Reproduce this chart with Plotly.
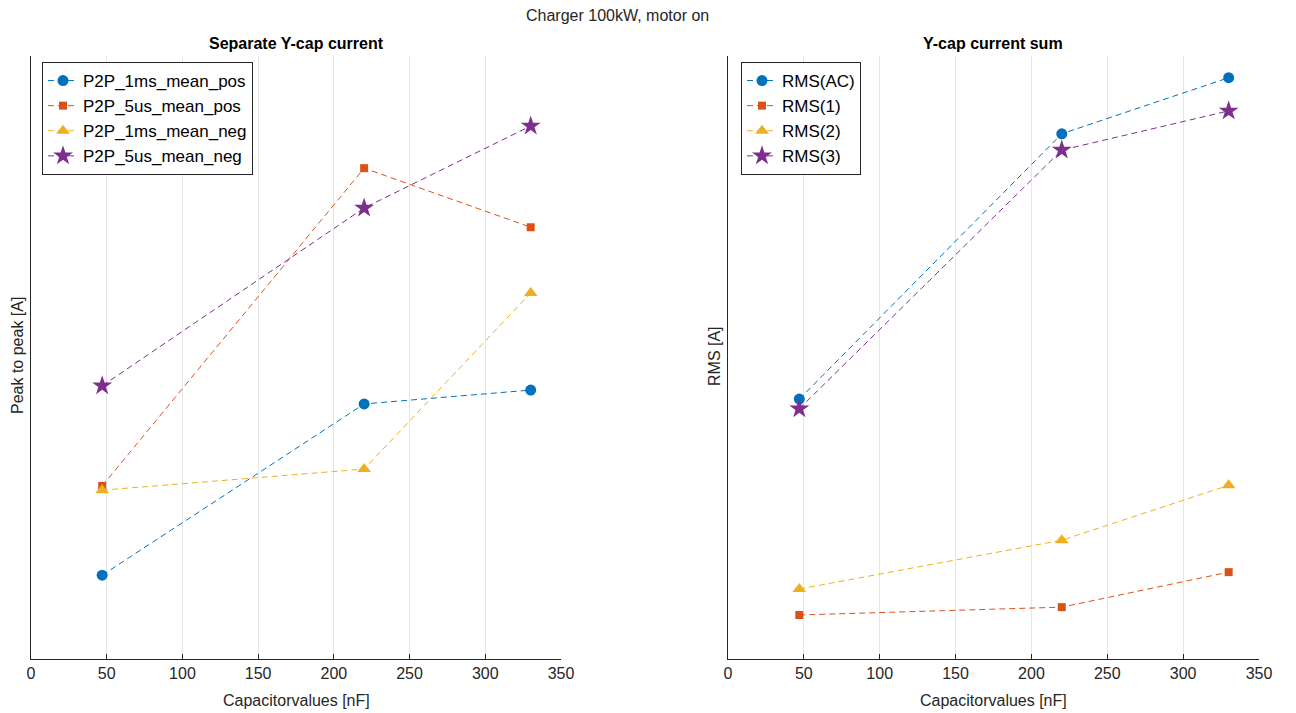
import plotly.graph_objects as go

cap_nf = [47, 220, 330]

# Left subplot: Separate Y-cap current (relative units, no y ticks shown)
p2p_1ms_mean_pos = [13.9, 42.3, 44.6]
p2p_5us_mean_pos = [28.7, 81.4, 71.6]
p2p_1ms_mean_neg = [28.0, 31.5, 60.7]
p2p_5us_mean_neg = [45.3, 74.8, 88.4]

# Right subplot: Y-cap current sum
rms_ac = [43.1, 87.1, 96.4]
rms_1 = [7.3, 8.6, 14.4]
rms_2 = [11.6, 19.7, 28.8]
rms_3 = [41.5, 84.4, 90.9]

x_ticks = [0, 50, 100, 150, 200, 250, 300, 350]

colors = ["#0072BD", "#D95319", "#EDB120", "#7E2F8E"]
symbols = ["circle", "square", "triangle-up", "star"]
sizes = [11, 8, 12, 15]

left_series = [("P2P_1ms_mean_pos", p2p_1ms_mean_pos), ("P2P_5us_mean_pos", p2p_5us_mean_pos),
               ("P2P_1ms_mean_neg", p2p_1ms_mean_neg), ("P2P_5us_mean_neg", p2p_5us_mean_neg)]
right_series = [("RMS(AC)", rms_ac), ("RMS(1)", rms_1), ("RMS(2)", rms_2), ("RMS(3)", rms_3)]

fig = go.Figure()
for i, (name, vals) in enumerate(left_series):
    fig.add_trace(go.Scatter(x=cap_nf, y=vals, name=name, mode="lines+markers",
                             line=dict(color=colors[i], width=1, dash="6px,4px"),
                             marker=dict(color=colors[i], symbol=symbols[i], size=sizes[i], line=dict(width=0)),
                             xaxis="x", yaxis="y", legend="legend"))
for i, (name, vals) in enumerate(right_series):
    fig.add_trace(go.Scatter(x=cap_nf, y=vals, name=name, mode="lines+markers",
                             line=dict(color=colors[i], width=1, dash="6px,4px"),
                             marker=dict(color=colors[i], symbol=symbols[i], size=sizes[i], line=dict(width=0)),
                             xaxis="x2", yaxis="y2", legend="legend2"))

font_family = "Liberation Sans, Arial, sans-serif"
axcol = "#262626"
FS = 16

# the page shows the figure with an 8px body margin; work in screen pixels
OFF = 8
W, H = 1296 - OFF, 713 - OFF


def PX(px):
    return (px - OFF) / W


def PY(py):
    return 1 - (py - OFF) / H


xcommon = dict(range=[0, 350], tickvals=x_ticks, showgrid=True, gridcolor="#e6e6e6", gridwidth=1,
               showline=True, linecolor=axcol, linewidth=1, ticks="inside", ticklen=5, tickcolor=axcol,
               tickfont=dict(size=FS, color="#262626", family=font_family), zeroline=False,
               automargin=False)
ycommon = dict(range=[0, 100], showticklabels=False, showgrid=False, showline=True, linecolor=axcol,
               linewidth=1, ticks="", zeroline=False, automargin=False)

legcommon = dict(xanchor="left", yanchor="top", bordercolor="#262626", borderwidth=1, bgcolor="white",
                 font=dict(size=17, color="black"), tracegroupgap=0, itemwidth=30)


def ann(text, px, py, size=FS, angle=0, color="#262626"):
    return dict(text=text, x=PX(px), y=PY(py), xref="paper", yref="paper", xanchor="center",
                yanchor="middle", textangle=angle, showarrow=False, font=dict(size=size, color=color))


fig.update_layout(
    width=W, height=H,
    margin=dict(l=0, r=0, t=0, b=0, autoexpand=False),
    paper_bgcolor="white", plot_bgcolor="white",
    font=dict(family=font_family, color="#262626"),
    xaxis=dict(domain=[PX(31), PX(561)], anchor="y", **xcommon),
    yaxis=dict(domain=[PY(659), PY(56)], anchor="x", **ycommon),
    xaxis2=dict(domain=[PX(728), PX(1259)], anchor="y2", **xcommon),
    yaxis2=dict(domain=[PY(659), PY(56)], anchor="x2", **ycommon),
    legend=dict(x=PX(42), y=PY(62), **legcommon),
    legend2=dict(x=PX(741), y=PY(62), **legcommon),
    showlegend=True,
    annotations=[
        ann("Charger 100kW, motor on", 617, 15),
        ann("<b>Separate Y-cap current</b>", 296, 44, color="black"),
        ann("<b>Y-cap current sum</b>", 993, 44, color="black"),
        ann("Peak to peak [A]", 17, 356, angle=-90),
        ann("RMS [A]", 714, 356, angle=-90),
        ann("Capacitorvalues [nF]", 296, 700),
        ann("Capacitorvalues [nF]", 993, 700),
    ],
)

fig.write_html("out.html")
